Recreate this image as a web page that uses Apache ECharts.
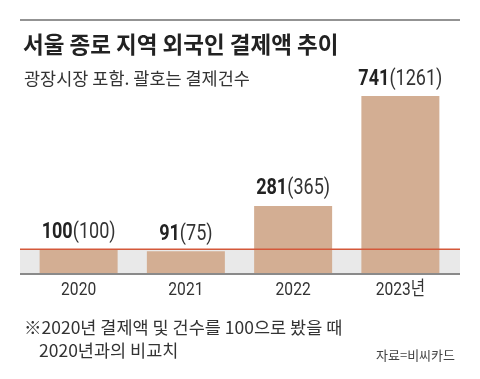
<!DOCTYPE html>
<html><head><meta charset="utf-8">
<script src="https://cdn.jsdelivr.net/npm/echarts@6/dist/echarts.min.js"></script>
<style>html,body{margin:0;padding:0;background:#fff}#c{width:480px;height:379px}</style>
</head><body><div id="c"></div>
<script>
const categories = ['2020', '2021', '2022', '2023년'];
const amountIndex = [100, 91, 281, 741];
const countIndex = [100, 75, 365, 1261];
const baseValue = 100;

const NUM = "Roboto,'Noto Sans CJK KR',sans-serif";
const KR = "'Noto Sans CJK KR',sans-serif";
const SQUEEZE = 0.82;

const chart = echarts.init(document.getElementById('c'), null, {renderer: 'canvas'});
chart.setOption({
  animation: false,
  backgroundColor: '#fff',
  title: [
    {text: '서울 종로 지역 외국인 결제액 추이', left: 18, top: 28,
     textStyle: {fontFamily: KR, fontSize: 22.5, fontWeight: 'bold', color: '#222'}},
    {text: '광장시장 포함. 괄호는 결제건수', left: 19, top: 65,
     textStyle: {fontFamily: KR, fontSize: 17.5, fontWeight: 'normal', color: '#333'}},
    {text: '※2020년 결제액 및 건수를 100으로 봤을 때', left: 19, top: 314,
     textStyle: {fontFamily: KR, fontSize: 17.5, fontWeight: 'normal', color: '#333'}},
    {text: '2020년과의 비교치', left: 34, top: 337,
     textStyle: {fontFamily: KR, fontSize: 17.5, fontWeight: 'normal', color: '#333'}},
    {text: '자료=비씨카드', right: 20, top: 344,
     textStyle: {fontFamily: KR, fontSize: 13, fontWeight: 'normal', color: '#444'}}
  ],
  grid: {left: 25, right: 26, top: 82, bottom: 106, containLabel: false},
  xAxis: {
    type: 'category', data: categories,
    axisLine: {show: false}, axisTick: {show: false}, axisLabel: {show: false}
  },
  yAxis: {type: 'value', min: 0, max: 800, show: false, splitLine: {show: false}},
  series: [{
    type: 'bar', data: amountIndex, barWidth: 78, z: 2,
    itemStyle: {color: '#d3ae93'}
  }, {
    type: 'custom', z: 20,
    data: categories.map((c, i) => [i, amountIndex[i]]),
    renderItem: (params, api) => {
      const i = params.dataIndex;
      const top = api.coord([api.value(0), api.value(1)]);
      const base = api.coord([api.value(0), 0]);
      return {
        type: 'group',
        children: [
          {type: 'text', x: top[0], y: top[1] - 6, scaleX: SQUEEZE,
           style: {
             text: `{b|${amountIndex[i]}}{r|(${countIndex[i]})}`,
             align: 'center', verticalAlign: 'bottom',
             rich: {
               b: {fontFamily: NUM, fontSize: 22, fontWeight: 'bold', fill: '#222', color: '#222'},
               r: {fontFamily: NUM, fontSize: 22, fontWeight: 'normal', fill: '#333', color: '#333'}
             }
           }},
          {type: 'text', x: base[0], y: base[1] + 17, scaleX: SQUEEZE,
           style: {
             text: categories[i], align: 'center', verticalAlign: 'middle',
             font: `normal 19px ${NUM}`, fill: '#333'
           }}
        ]
      };
    }
  }]
});

const y0 = chart.convertToPixel({yAxisIndex: 0}, 0);
const yBase = chart.convertToPixel({yAxisIndex: 0}, baseValue);
chart.setOption({
  graphic: [
    {type: 'line', z: 10, shape: {x1: 20, y1: 20, x2: 460, y2: 20}, style: {stroke: '#939393', lineWidth: 2}},
    {type: 'rect', z: 0, shape: {x: 20, y: yBase, width: 440, height: y0 - yBase}, style: {fill: '#e9e9e9'}},
    {type: 'line', z: 10, shape: {x1: 20, y1: y0 + 1, x2: 460, y2: y0 + 1}, style: {stroke: '#8a8a8a', lineWidth: 2}},
    {type: 'line', z: 10, shape: {x1: 20, y1: yBase, x2: 460, y2: yBase}, style: {stroke: '#d4583a', lineWidth: 1.5}}
  ]
});
</script></body></html>
